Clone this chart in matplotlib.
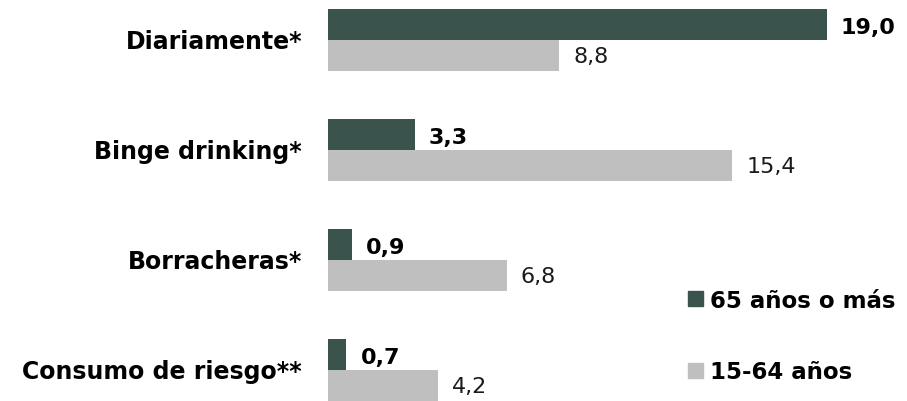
import matplotlib
matplotlib.use("Agg")
import matplotlib.pyplot as plt
from matplotlib.patches import Rectangle

categories = ["Diariamente*", "Binge drinking*", "Borracheras*", "Consumo de riesgo**"]
serie_65 = [19.0, 3.3, 0.9, 0.7]
serie_15 = [8.8, 15.4, 6.8, 4.2]
labels_series = ["65 años o más", "15-64 años"]
dark = "#3b534d"
grey = "#bfbfbf"

plt.rcParams['font.family'] = ['DejaVu Sans']
FS = 16

W, H = 907, 402
fig = plt.figure(figsize=(W/100, H/100), dpi=100)
ax = fig.add_axes([328/W, 0, 579/W, 1])
px_per_unit = 26.26
ypx = 110.0  # pixels per category
ax.set_xlim(0, 579/px_per_unit)
ax.set_ylim((402-41)/ypx, -41/ypx)
ax.axis('off')

h = 31/ypx
ys = list(range(len(categories)))
ax.barh([y - h/2 for y in ys], serie_65, height=h, color=dark)
ax.barh([y + h/2 for y in ys], serie_15, height=h, color=grey)

cap_half = 8/ypx
off = 14/px_per_unit
for y, v in zip(ys, serie_65):
    ax.text(v + off, y - h/2 + 1/ypx + cap_half, f"{v:.1f}".replace('.', ','),
            va='baseline', ha='left', fontsize=FS, fontweight='bold', color='black')
for y, v in zip(ys, serie_15):
    ax.text(v + off, y + h/2 - 1.5/ypx + cap_half, f"{v:.1f}".replace('.', ','),
            va='baseline', ha='left', fontsize=FS, color='#1a1a1a')

for y, c in zip(ys, categories):
    ax.text(-26/px_per_unit, y + 0.5/ypx + cap_half, c, va='baseline', ha='right',
            fontsize=17, fontweight='bold', color='black', clip_on=False)

# legend
for yc, lab, col in [(299.5, labels_series[0], dark), (371, labels_series[1], grey)]:
    fig.patches.append(Rectangle((688/W, 1 - (yc + 7.5)/H), 15/W, 15/H,
                                 transform=fig.transFigure, color=col))
    fig.text(710/W, 1 - (yc + 8)/H, lab, va='baseline', ha='left',
             fontsize=16.5, fontweight='bold', color='black')

fig.savefig("out.png", dpi=100)
